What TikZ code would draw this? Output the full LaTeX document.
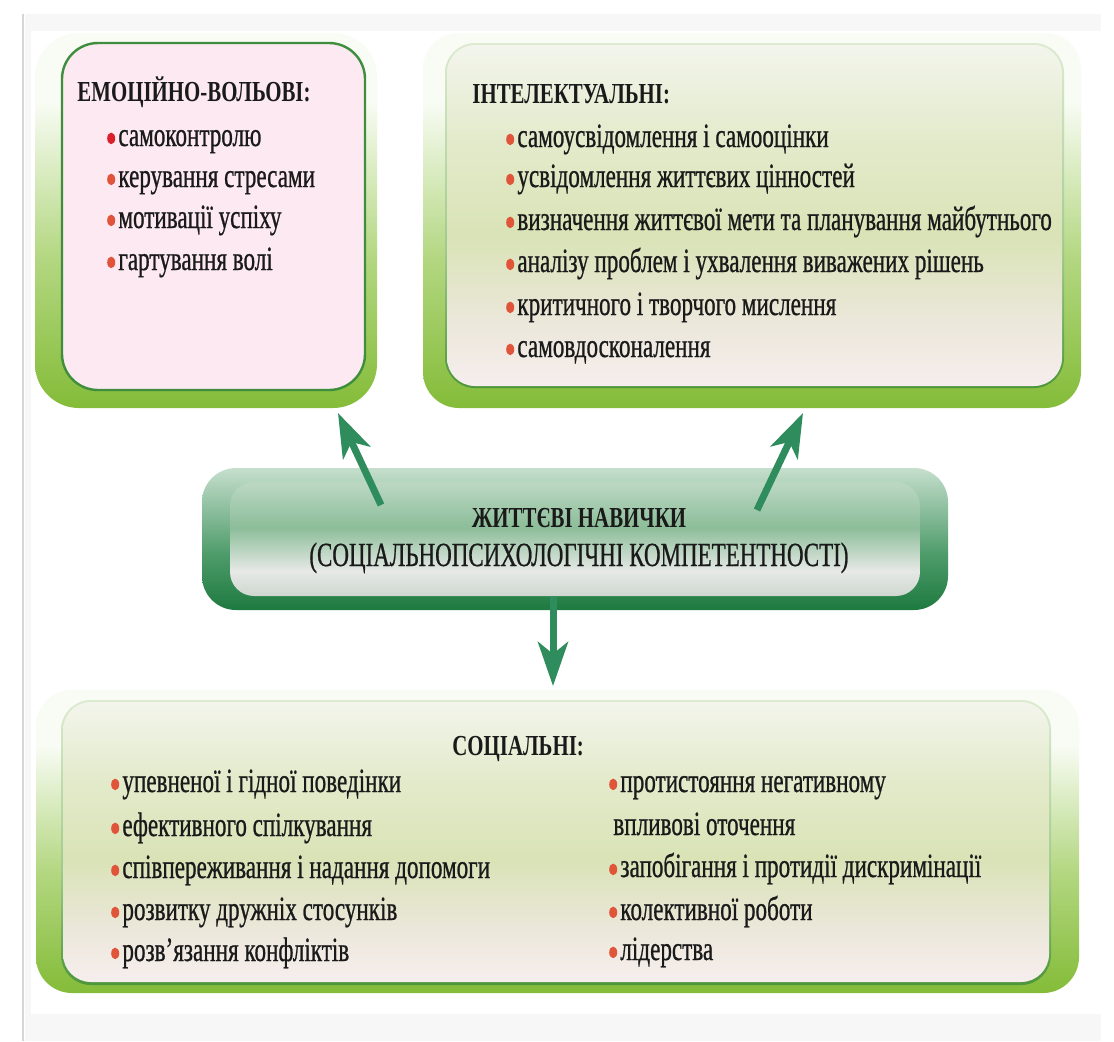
\documentclass[tikz,border=0pt]{standalone}
\usepackage{fontspec}
\setmainfont{Liberation Serif}[FakeStretch=0.72]
\newfontfamily\listfont{Liberation Serif}[FakeStretch=0.68, FakeBold=0.7]
\usetikzlibrary{arrows.meta}

% palette
\definecolor{txt}{HTML}{1A1A1A}
\definecolor{panel}{HTML}{F7F7F7}
\definecolor{edgeline}{HTML}{D6D6D6}
\definecolor{bulc}{HTML}{E0553A}
\definecolor{bulred}{HTML}{D9202B}
\definecolor{pinkface}{HTML}{FDE9F1}
\definecolor{darkrim}{HTML}{3E8E3E}
\definecolor{arrowc}{HTML}{2F8C5C}
% outer green rims
\definecolor{rimD}{HTML}{84BC38}
\definecolor{rimM}{HTML}{B3D781}
\definecolor{rimL}{HTML}{F9FCF5}
% thin borders of the light faces
\definecolor{frD}{HTML}{4C963A}
\definecolor{frM}{HTML}{A0C98C}
\definecolor{frL}{HTML}{DCEBD0}
% light green faces
\definecolor{fA}{HTML}{F6EEEE}
\definecolor{fB}{HTML}{EBE7D9}
\definecolor{fC}{HTML}{D9E3B6}
\definecolor{fD}{HTML}{E4EBCD}
\definecolor{fE}{HTML}{F3F5EC}
% tube
\definecolor{tD}{HTML}{1E7A40}
\definecolor{tM}{HTML}{4F9C6B}
\definecolor{tL}{HTML}{C6DFCD}
\definecolor{sA}{HTML}{CFD6CF}
\definecolor{sB}{HTML}{E6E9E6}
\definecolor{sC}{HTML}{8CBD99}
\definecolor{sD}{HTML}{BCD8C4}

\pgfdeclareverticalshading{rim}{100bp}{color(0bp)=(rimD); color(25bp)=(rimD); color(45bp)=(rimM); color(66bp)=(rimL); color(100bp)=(rimL)}
\pgfdeclareverticalshading{facerim}{100bp}{color(0bp)=(frD); color(25bp)=(frD); color(45bp)=(frM); color(75bp)=(frL); color(100bp)=(frL)}
\pgfdeclareverticalshading{face}{100bp}{color(0bp)=(fA); color(25bp)=(fA); color(35bp)=(fB); color(47bp)=(fC); color(62bp)=(fD); color(75bp)=(fE); color(100bp)=(fE)}
\pgfdeclareverticalshading{tubeout}{100bp}{color(0bp)=(tD); color(25bp)=(tD); color(45bp)=(tM); color(75bp)=(tL); color(100bp)=(tL)}
\pgfdeclareverticalshading{tubeface}{100bp}{color(0bp)=(sA); color(25bp)=(sA); color(36bp)=(sB); color(55bp)=(sC); color(75bp)=(sD); color(100bp)=(sD)}

\tikzset{
  item/.style={anchor=base west, inner sep=0pt, text=txt, font=\listfont\fontsize{17pt}{19pt}\selectfont},
  heading/.style={anchor=base west, inner sep=0pt, text=txt, font=\fontsize{14.5pt}{17pt}\selectfont\bfseries},
  coreline/.style={anchor=base, inner sep=0pt, text=txt},
  arr/.style={draw=arrowc, line width=3.5pt, -{Stealth[length=22pt,width=15pt,inset=6pt]}},
}

% one list entry: node name, x, baseline y, text; a round marker sits before it
\newcommand\entry[5][bulc]{%
  \node[item] (#2) at (#3,-#4) {#5};
  \fill[#1] ([xshift=-3.4pt,yshift=3.8pt]#2.base west) ellipse [x radius=2pt, y radius=2.9pt];}

\begin{document}
\begin{tikzpicture}[x=0.5pt,y=0.5pt]
\useasboundingbox (0,0) rectangle (1114,-1041);
\fill[white] (0,0) rectangle (1114,-1041);
\fill[panel] (25,-14) rectangle (1101,-1041);
\fill[white] (31,-31) rectangle (1101,-1014);
\draw[edgeline, line width=1.4pt] (23,-14) -- (23,-1041);

% emotional-volitional box
\shade[shading=rim, rounded corners=22pt] (35,-33) rectangle (377,-408);
\filldraw[fill=pinkface, draw=darkrim, line width=1.2pt, rounded corners=18pt] (62,-43) rectangle (365,-390);

% intellectual box
\shade[shading=rim, rounded corners=18pt] (423,-33) rectangle (1081,-408);
\shade[shading=facerim, rounded corners=15pt] (445,-43) rectangle (1064,-388);
\shade[shading=face, rounded corners=14pt] (447,-45) rectangle (1062,-386);

% social box
\shade[shading=rim, rounded corners=18pt] (36,-690) rectangle (1079,-993);
\shade[shading=facerim, rounded corners=15pt] (61,-700) rectangle (1051,-985);
\shade[shading=face, rounded corners=14pt] (63,-702) rectangle (1049,-982);

% central tube
\shade[shading=tubeout, rounded corners=17pt] (202,-468) rectangle (948,-610);
\shade[shading=tubeface, rounded corners=12pt] (230,-482) rectangle (920,-596);

% arrow ends
\coordinate (s1) at (381,-505);
\coordinate (e1) at (338,-413);
\coordinate (s2) at (757,-510);
\coordinate (e2) at (803,-413);
\coordinate (s3) at (553,-597);
\coordinate (e3) at (553,-686);
\draw[arr] (s1) -- (e1);
\draw[arr] (s2) -- (e2);
\draw[arr] (s3) -- (e3);

% centre text
\node[coreline, font=\fontsize{14.5pt}{17pt}\selectfont\bfseries] (core) at (579,-527) {ЖИТТЄВІ НАВИЧКИ};
\node[coreline, font=\listfont\fontsize{16.9pt}{19pt}\selectfont] (core2) at (579,-566) {(СОЦІАЛЬНОПСИХОЛОГІЧНІ КОМПЕТЕНТНОСТІ)};

% emotional-volitional list
\node[heading] (emoT) at (77,-101) {ЕМОЦІЙНО-ВОЛЬОВІ:};
\entry[bulred]{em1}{118}{146}{самоконтролю}
\entry{em2}{118}{187}{керування стресами}
\entry{em3}{118}{228}{мотивації успіху}
\entry{em4}{118}{270}{гартування волі}

% intellectual list
\node[heading] (intT) at (472,-103) {ІНТЕЛЕКТУАЛЬНІ:};
\entry{in1}{517}{147}{самоусвідомлення і самооцінки}
\entry{in2}{517}{187}{усвідомлення життєвих цінностей}
\entry{in3}{517}{230}{визначення життєвої мети та планування майбутнього}
\entry{in4}{517}{272}{аналізу проблем і ухвалення виважених рішень}
\entry{in5}{517}{315}{критичного і творчого мислення}
\entry{in6}{517}{357}{самовдосконалення}

% social list
\node[heading] (socT) at (452,-755) {СОЦІАЛЬНІ:};
\entry{so1}{122}{792}{упевненої і гідної поведінки}
\entry{so2}{122}{836}{ефективного спілкування}
\entry{so3}{122}{878}{співпереживання і надання допомоги}
\entry{so4}{122}{920}{розвитку дружніх стосунків}
\entry{so5}{122}{961}{розв’язання конфліктів}
\entry{so6}{620}{792}{протистояння негативному}
\node[item] (so6b) at (613,-835) {впливові оточення};
\entry{so7}{620}{877}{запобігання і протидії дискримінації}
\entry{so8}{620}{920}{колективної роботи}
\entry{so9}{620}{960}{лідерства}
\end{tikzpicture}
\end{document}
